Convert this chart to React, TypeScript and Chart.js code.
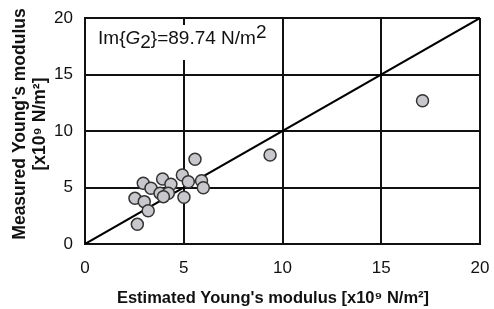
import React, { useEffect, useRef } from "react";
import { Chart, registerables } from "chart.js";

Chart.register(...registerables);

const estimated = [5.57, 2.95, 3.34, 3.93, 4.35, 3.8, 4.22, 3.97, 4.93, 5.23, 5.9, 5.99, 5.01, 2.53, 3.0, 3.2, 2.65, 9.37, 17.09];
const measured = [7.5, 5.37, 4.93, 5.75, 5.28, 4.49, 4.49, 4.19, 6.1, 5.51, 5.6, 4.98, 4.13, 4.04, 3.75, 2.95, 1.74, 7.88, 12.68];
const tickValues = [0, 5, 10, 15, 20];
const identityLine = [0, 20];
const xTitle = "Estimated Young's modulus [x10\u2079 N/m\u00b2]";
const yTitle = ["Measured Young's modulus", "[x10\u2079 N/m\u00b2]"];

const FONT = "'Liberation Sans', Arial, sans-serif";

const annotationPlugin = {
  id: "annot",
  beforeDatasetsDraw(chart: any) {
    const { ctx, scales } = chart;
    const x0 = scales.x.getPixelForValue(0.66);
    const base = scales.y.getPixelForValue(17.7);
    ctx.save();
    ctx.fillStyle = "#ffffff";
    ctx.fillRect(x0 - 6, base - 19, 185, 35);
    ctx.fillStyle = "#111111";
    ctx.textBaseline = "alphabetic";
    const f = "19px " + FONT;
    const fi = "italic 19px " + FONT;
    let x = x0;
    const put = (t: string, font: string, dy: number) => {
      ctx.font = font;
      ctx.fillText(t, x, base + dy);
      x += ctx.measureText(t).width;
    };
    put("Im{", f, 0);
    put("G", fi, 0);
    put("2", f, 4);
    put("}=89.74 N/m", f, 0);
    put("2", f, -6);
    ctx.restore();
  },
};

const titlesPlugin = {
  id: "titles",
  afterDraw(chart: any) {
    const { ctx, chartArea } = chart;
    ctx.save();
    ctx.fillStyle = "#111111";
    ctx.textAlign = "center";
    ctx.textBaseline = "middle";
    ctx.font = "bold 16.5px " + FONT;
    ctx.fillText(xTitle, chartArea.left + 188, 298);
    ctx.translate(0, chartArea.top + 106);
    ctx.rotate(-Math.PI / 2);
    ctx.font = "bold 17.5px " + FONT;
    ctx.fillText(yTitle[0], 0, 20);
    ctx.fillText(yTitle[1], 0, 40);
    ctx.restore();
  },
};

export default function App() {
  const ref = useRef<HTMLCanvasElement>(null);
  useEffect(() => {
    document.body.style.margin = "0";
    const pts = estimated.map((v, i) => ({ x: v, y: measured[i] }));
    const line = identityLine.map((v) => ({ x: v, y: v }));
    const chart = new Chart(ref.current!, {
      type: "scatter",
      data: {
        datasets: [
          {
            data: pts,
            backgroundColor: "#c8c8cc",
            borderColor: "#333333",
            borderWidth: 1.5,
            pointRadius: 6,
            order: 0,
          },
          {
            type: "line",
            data: line,
            borderColor: "#000000",
            borderWidth: 2,
            pointRadius: 0,
            showLine: true,
            order: 1,
          } as any,
        ],
      },
      options: {
        animation: false,
        responsive: false,
        layout: { padding: { top: 18, right: 14, left: 0, bottom: 0 } },
        plugins: { legend: { display: false }, tooltip: { enabled: false } },
        scales: {
          x: {
            type: "linear",
            min: 0,
            max: 20,
            afterBuildTicks: (s: any) => {
              s.ticks = tickValues.map((v) => ({ value: v }));
            },
            afterFit: (s: any) => {
              s.height = 65;
              s.paddingLeft = 0;
              s.paddingRight = 0;
            },
            ticks: { color: "#111", font: { family: FONT, size: 17 }, padding: 14 },
            grid: { color: "#111", lineWidth: 2, drawTicks: false },
            border: { color: "#111", width: 2 },
          },
          y: {
            type: "linear",
            min: 0,
            max: 20,
            afterBuildTicks: (s: any) => {
              s.ticks = tickValues.map((v) => ({ value: v }));
            },
            afterFit: (s: any) => {
              s.width = 85;
              s.paddingTop = 0;
              s.paddingBottom = 0;
            },
            ticks: { color: "#111", font: { family: FONT, size: 17 }, padding: 12 },
            grid: { color: "#111", lineWidth: 2, drawTicks: false },
            border: { color: "#111", width: 2 },
          },
        },
      },
      plugins: [annotationPlugin, titlesPlugin],
    });
    return () => chart.destroy();
  }, []);
  return <canvas ref={ref} width={494} height={309} style={{ display: "block" }} />;
}
